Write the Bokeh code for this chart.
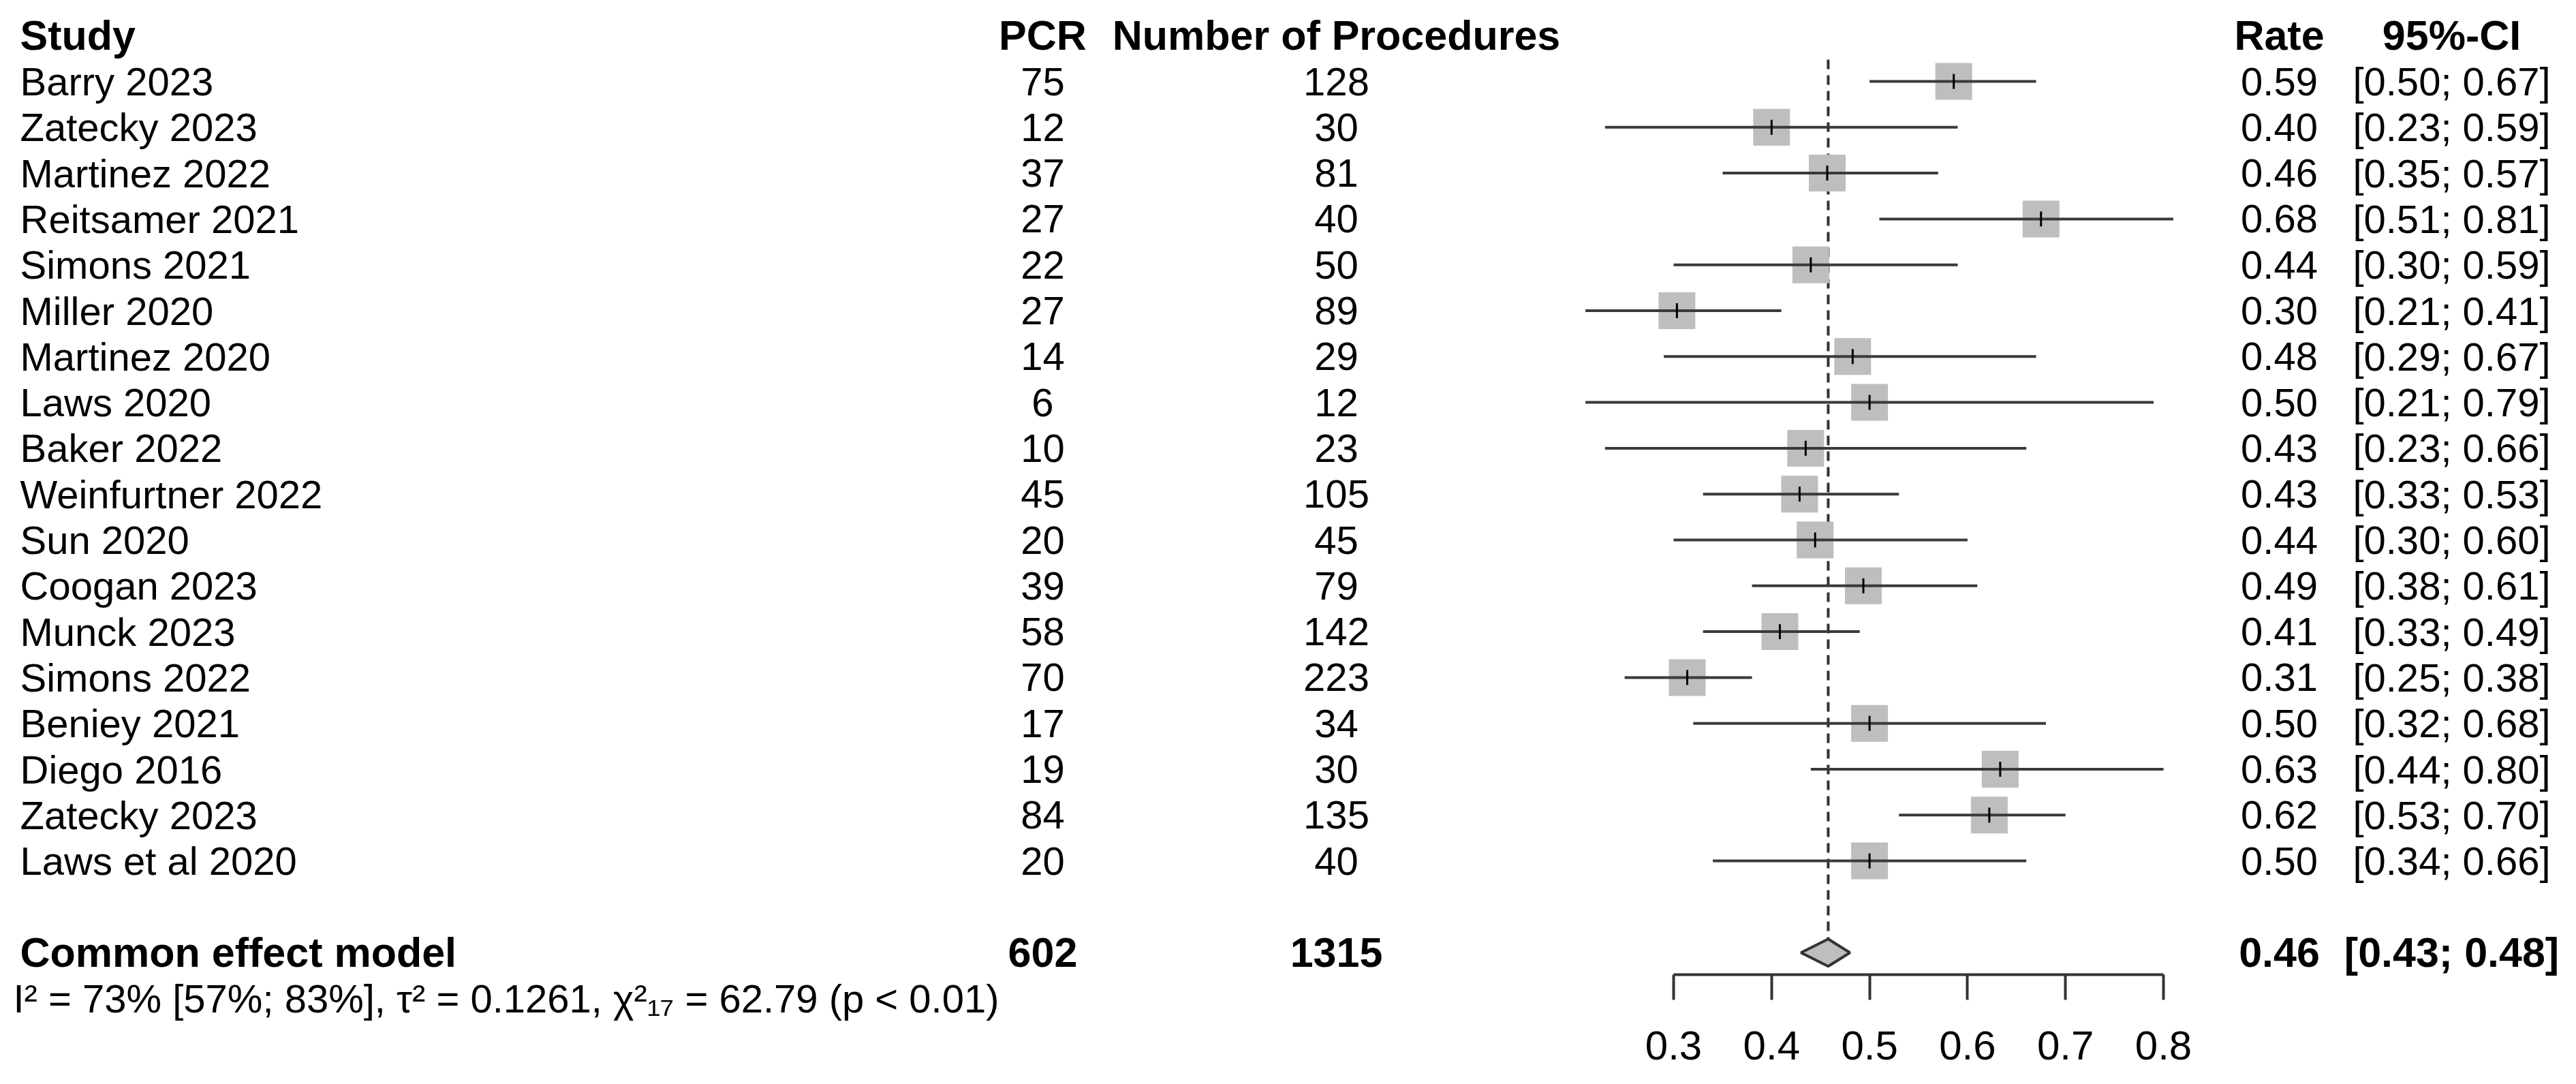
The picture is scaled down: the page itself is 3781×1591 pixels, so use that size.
from bokeh.plotting import figure
from bokeh.models import Range1d, LinearAxis, FixedTicker, ColumnDataSource
from bokeh.core.properties import value
from bokeh.embed import file_html
from bokeh.resources import INLINE

# ---------------- data ----------------
studies = ["Barry 2023", "Zatecky 2023", "Martinez 2022", "Reitsamer 2021", "Simons 2021",
           "Miller 2020", "Martinez 2020", "Laws 2020", "Baker 2022", "Weinfurtner 2022",
           "Sun 2020", "Coogan 2023", "Munck 2023", "Simons 2022", "Beniey 2021",
           "Diego 2016", "Zatecky 2023", "Laws et al 2020"]
pcr = [75, 12, 37, 27, 22, 27, 14, 6, 10, 45, 20, 39, 58, 70, 17, 19, 84, 20]
procedures = [128, 30, 81, 40, 50, 89, 29, 12, 23, 105, 45, 79, 142, 223, 34, 30, 135, 40]
rate = [0.59, 0.40, 0.46, 0.68, 0.44, 0.30, 0.48, 0.50, 0.43, 0.43, 0.44, 0.49, 0.41, 0.31,
        0.50, 0.63, 0.62, 0.50]
lower = [0.50, 0.23, 0.35, 0.51, 0.30, 0.21, 0.29, 0.21, 0.23, 0.33, 0.30, 0.38, 0.33, 0.25,
         0.32, 0.44, 0.53, 0.34]
upper = [0.67, 0.59, 0.57, 0.81, 0.59, 0.41, 0.67, 0.79, 0.66, 0.53, 0.60, 0.61, 0.49, 0.38,
         0.68, 0.80, 0.70, 0.66]

summary_label = "Common effect model"
summary_pcr = 602
summary_n = 1315
summary_rate = 0.46
summary_lower = 0.43
summary_upper = 0.48
heterogeneity = "I\u00b2 = 73% [57%; 83%], \u03c4\u00b2 = 0.1261, \u03c7\u00b2\u2081\u2087 = 62.79 (p < 0.01)"

headers = ["Study", "PCR", "Number of Procedures", "Rate", "95%-CI"]
tick_values = [0.3, 0.4, 0.5, 0.6, 0.7, 0.8]

# ---------------- layout constants ----------------
W, H = 3765, 1575
FONT = value("Liberation Sans")
REG = value("58px")
BOLD = value("61px")
ROW_PX = 67.3
ROW0_PX = 127.0      # page px of first row centre
PX_PER_UNIT = 1438.0
X03_PX = 2464.0

def row_of(px):
    return (px - ROW0_PX) / ROW_PX

x_start = 0.3 - (X03_PX - 8) / PX_PER_UNIT
x_end = 0.3 + (3773 - X03_PX) / PX_PER_UNIT

p = figure(width=W, height=H, output_backend="svg", toolbar_location=None,
           x_axis_type=None, y_axis_type=None, min_border=0,
           x_range=Range1d(x_start, x_end),
           y_range=Range1d(row_of(1583), row_of(8)))
p.extra_x_ranges = {"px": Range1d(8, 3773)}
p.outline_line_color = None
p.background_fill_color = "white"
p.border_fill_color = "white"

rows = list(range(len(studies)))
summary_row = len(studies) + 1
het_row = summary_row + 1

COL_STUDY, COL_PCR, COL_N, COL_RATE, COL_CI = 37, 1538, 1969, 3353, 3606

src = ColumnDataSource(dict(
    row=rows,
    study=studies,
    pcr=[str(v) for v in pcr],
    n=[str(v) for v in procedures],
    est=[a / b for a, b in zip(pcr, procedures)],
    rate_txt=["%.2f" % v for v in rate],
    ci_txt=["[%.2f; %.2f]" % (a, b) for a, b in zip(lower, upper)],
    lo=lower, hi=upper,
))

common = dict(x_range_name="px", text_baseline="middle", text_font=FONT, text_color="black")

# ---- headers ----
hy = -1
p.text(x=[COL_STUDY], y=[hy], text=[headers[0]], text_align="left", text_font_size=BOLD,
       text_font_style="bold", **common)
p.text(x=[COL_PCR, COL_N, COL_RATE, COL_CI], y=[hy] * 4, text=headers[1:], text_align="center",
       text_font_size=BOLD, text_font_style="bold", **common)

# ---- study rows text ----
p.text(x=COL_STUDY, y="row", text="study", source=src, text_align="left", text_font_size=REG,
       **common)
for col, field in [(COL_PCR, "pcr"), (COL_N, "n"), (COL_RATE, "rate_txt"), (COL_CI, "ci_txt")]:
    p.text(x=col, y="row", text=field, source=src, text_align="center", text_font_size=REG,
           **common)

# ---- summary row text ----
p.text(x=[COL_STUDY], y=[summary_row], text=[summary_label], text_align="left",
       text_font_size=BOLD, text_font_style="bold", **common)
p.text(x=[COL_PCR, COL_N, COL_RATE, COL_CI], y=[summary_row] * 4,
       text=[str(summary_pcr), str(summary_n), "%.2f" % summary_rate,
             "[%.2f; %.2f]" % (summary_lower, summary_upper)],
       text_align="center", text_font_size=BOLD, text_font_style="bold", **common)
p.text(x=[COL_STUDY - 10], y=[het_row], text=[heterogeneity], text_align="left",
       text_font_size=REG, **common)

# ---- forest marks ----
summary_est = summary_pcr / summary_n
half_h = 20.0 / ROW_PX
p.segment(x0=[summary_est], y0=[row_of(95)], x1=[summary_est], y1=[summary_row - half_h],
          line_color="#333333", line_width=4, line_dash="14 9")
p.scatter(x="est", y="row", source=src, marker="square", size=54, fill_color="#BEBEBE",
          line_color=None)
p.segment(x0="lo", y0="row", x1="hi", y1="row", source=src, line_color="#3a3a3a",
          line_width=4)
p.scatter(x="est", y="row", source=src, marker="dash", angle=1.5708, size=22,
          line_color="black", line_width=3)

p.patch(x=[summary_lower, summary_est, summary_upper, summary_est],
        y=[summary_row, summary_row - half_h, summary_row, summary_row + half_h],
        fill_color="#BEBEBE", line_color="#333333", line_width=4)

# ---- axis ----
ax = LinearAxis(fixed_location=row_of(1438), bounds=(0.3, 0.8),
                ticker=FixedTicker(ticks=tick_values, minor_ticks=[]))
ax.axis_line_width = 4
ax.axis_line_color = "#333333"
ax.major_tick_line_width = 4
ax.major_tick_line_color = "#333333"
ax.major_tick_in = 0
ax.major_tick_out = 37
ax.minor_tick_line_color = None
ax.major_label_standoff = 46
ax.major_label_text_font = "Liberation Sans"
ax.major_label_text_font_size = "60px"
ax.major_label_text_color = "black"
p.add_layout(ax, "below")

open("out.html", "w").write(file_html(p, INLINE))
